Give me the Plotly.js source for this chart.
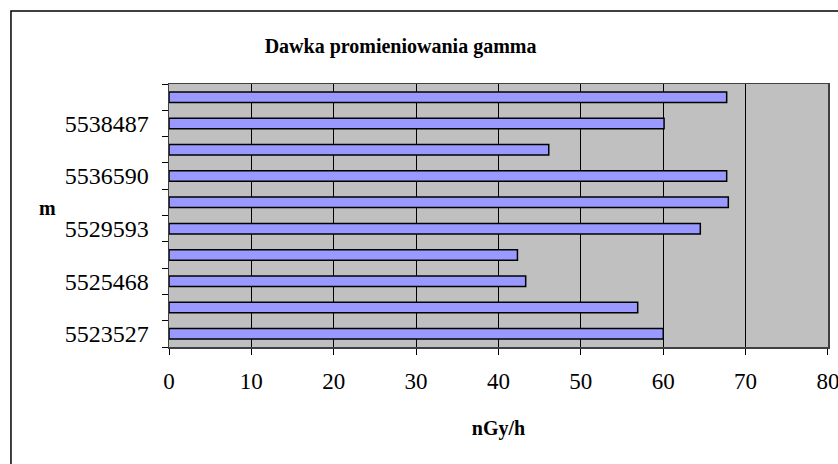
<!DOCTYPE html>
<html><head><meta charset="utf-8">
<script src="https://cdn.plot.ly/plotly-3.0.1.min.js"></script>
<style>body{margin:0;background:#fff}#chart{width:838px;height:464px}</style>
</head><body><div id="chart"></div>
<script>
// bottom to top
const positions = [0,1,2,3,4,5,6,7,8,9];
const doseValues = [60.0, 56.9, 43.3, 42.3, 64.5, 67.9, 67.7, 46.1, 60.1, 67.7];
const labelPositions = [0,2,4,6,8];
const tickLabels = ['5523527','5525468','5529593','5536590','5538487'];
const boundaries = [-0.5,0.5,1.5,2.5,3.5,4.5,5.5,6.5,7.5,8.5,9.5];
const xTicks = [0,10,20,30,40,50,60,70,80];

const serif = 'Liberation Serif, Times New Roman, serif';
const trace = {
  type:'bar', orientation:'h', x:doseValues, y:positions,
  marker:{color:'#9999FF', line:{color:'#000', width:1.5}},
  hoverinfo:'x'
};
const layout = {
  width:838, height:464,
  margin:{l:169, r:10, t:84, b:117},
  paper_bgcolor:'#fff', plot_bgcolor:'#C0C0C0',
  bargap:0.6, showlegend:false,
  title:{text:'<b>Dawka promieniowania gamma</b>', font:{family:serif, size:20, color:'#000'}, x:0.478, xanchor:'center', y:0.9, yanchor:'middle'},
  xaxis:{range:[0,80.001], tickvals:xTicks, ticks:'outside', ticklen:6, tickcolor:'#000', tickwidth:1,
    ticklabelstandoff:7, ticklabeloverflow:'allow', showgrid:true, gridcolor:'#000', gridwidth:1, zeroline:false,
    showline:true, linecolor:'#404040', linewidth:1.5, mirror:true,
    tickfont:{family:serif, size:23, color:'#000'},
    title:{text:'<b>nGy/h</b>', font:{family:serif, size:20, color:'#000'}, standoff:28}},
  yaxis:{range:[-0.5,9.5], tickvals:labelPositions, ticktext:tickLabels, ticks:'', showgrid:false, zeroline:false,
    showline:true, linecolor:'#404040', linewidth:1.5, mirror:true, ticklabelstandoff:14,
    tickfont:{family:serif, size:24, color:'#000'},
    minor:{tickvals:boundaries, ticks:'outside', ticklen:6, tickcolor:'#000', tickwidth:1, showgrid:false}},
  annotations:[{text:'<b>m</b>', xref:'paper', yref:'paper', x:-0.185, y:0.53, xanchor:'center', yanchor:'middle', showarrow:false, font:{family:serif, size:20, color:'#000'}}],
  shapes:[{type:'rect', xref:'paper', yref:'paper', x0:-0.2398, x1:1.05, y0:-0.5, y1:1.2776, line:{color:'#000', width:1.5}, fillcolor:'rgba(0,0,0,0)', layer:'below'}]
};
Plotly.newPlot('chart',[trace],layout,{displayModeBar:false, staticPlot:true});
</script></body></html>
